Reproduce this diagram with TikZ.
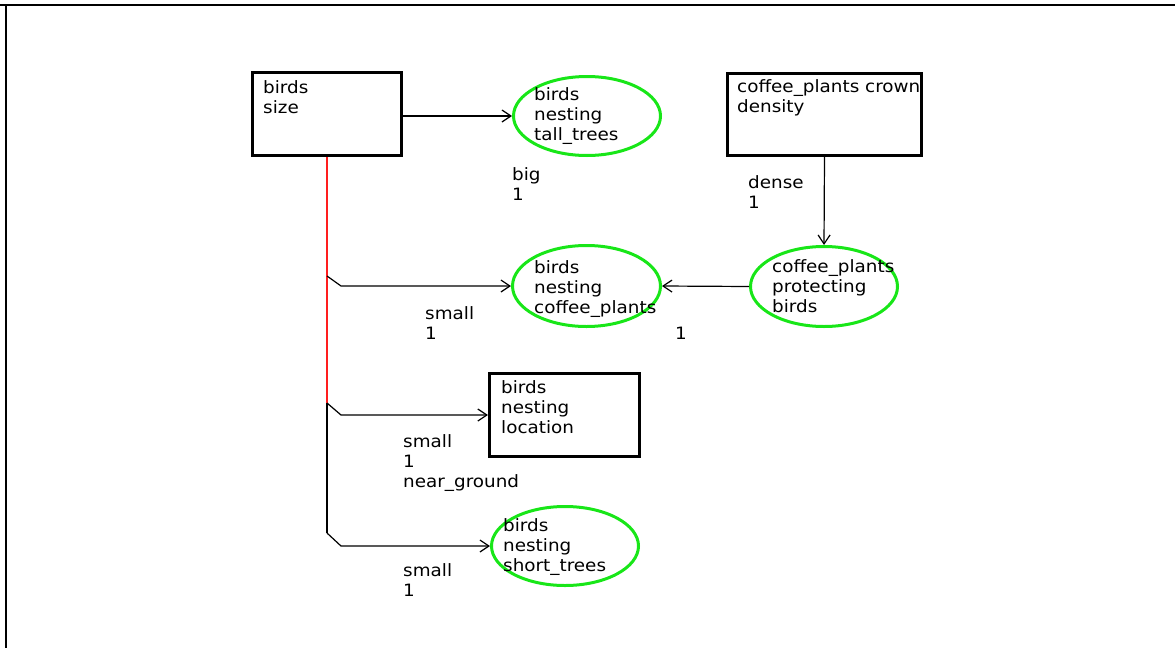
\documentclass[tikz,border=0pt]{standalone}
\usepackage{fontspec}
\newfontfamily\diagfont[FakeStretch=1.08]{DejaVu Sans}
\usetikzlibrary{arrows.meta,shapes.geometric}
\definecolor{nodegreen}{RGB}{24,230,24}
\definecolor{linkred}{RGB}{255,30,30}
\begin{document}
\begin{tikzpicture}[x=1pt,y=-1pt,
  varbox/.style={draw,line width=3.2pt,rectangle,inner sep=0pt},
  stateoval/.style={draw=nodegreen,ellipse,line width=3pt,inner sep=0pt},
  % anchored at the baseline of the last line
  txt/.style={anchor=base west,inner sep=0pt,align=left,
    font=\diagfont\fontsize{17}{19.8}\selectfont},
  link/.style={line width=1.2pt},
  tip/.style={-{Straight Barb[length=9pt,width=12pt]}}]
\useasboundingbox (0,0) rectangle (1175,648);
% outer frame
\draw[line width=2.4pt] (0,5) -- (1175,5);
\draw[line width=1.2pt] (6,5) -- (6,648);

% variable boxes
\node[varbox,minimum width=149pt,minimum height=83pt] (size) at (327,114) {};
\node[varbox,minimum width=194pt,minimum height=82pt] (crown) at (824.5,114.5) {};
\node[varbox,minimum width=150pt,minimum height=83pt] (loc) at (564.5,415) {};

% state ovals
\node[stateoval,minimum width=147pt,minimum height=79pt] (tall) at (587,116) {};
\node[stateoval,minimum width=148pt,minimum height=81pt] (cplants) at (586.5,286) {};
\node[stateoval,minimum width=147pt,minimum height=80pt] (protect) at (824,286.5) {};
\node[stateoval,minimum width=147pt,minimum height=79pt] (short) at (565,546) {};

% texts inside the shapes
\node[txt] (sizetxt) at (263,113) {birds\\size};
\node[txt] (crowntxt) at (737,112) {coffee\_plants crown\\density};
\node[txt] (loctxt) at (501,433) {birds\\nesting\\location};
\node[txt] (talltxt) at (534,140) {birds\\nesting\\tall\_trees};
\node[txt] (cplantstxt) at (534,313) {birds\\nesting\\coffee\_plants};
\node[txt] (protecttxt) at (772,312) {coffee\_plants\\protecting\\birds};
\node[txt] (shorttxt) at (503,571) {birds\\nesting\\short\_trees};

% link labels
\node[txt] (lbig) at (512,200) {big\\1};
\node[txt] (ldense) at (748,208) {dense\\1};
\node[txt] (lsmalla) at (425,339) {small\\1};
\node[txt] (lone) at (675,339) {1};
\node[txt] (lsmallb) at (403,487) {small\\1\\near\_ground};
\node[txt] (lsmallc) at (403,596) {small\\1};

% links
\draw[link,tip] (size.east |- tall.west) -- (tall.west);
\draw[link,tip] (crown.south) -- (protect.north);
\draw[link,tip] (protect.west) -- (cplants.west -| cplants.east);

\coordinate (j1) at (327,276);
\coordinate (j2) at (327,403);
\coordinate (j3) at (327,533);
\draw[link,draw=linkred] (size.south) -- (j2);
\draw[link] (j2) -- (j3);
\draw[link,tip] (j1) -- ++(14,10) -- (cplants.west);
\draw[link,tip] (j2) -- ++(14,12) -- (loc.west);
\draw[link,tip] (j3) -- ++(14,13) -- (short.west);
\end{tikzpicture}
\end{document}
